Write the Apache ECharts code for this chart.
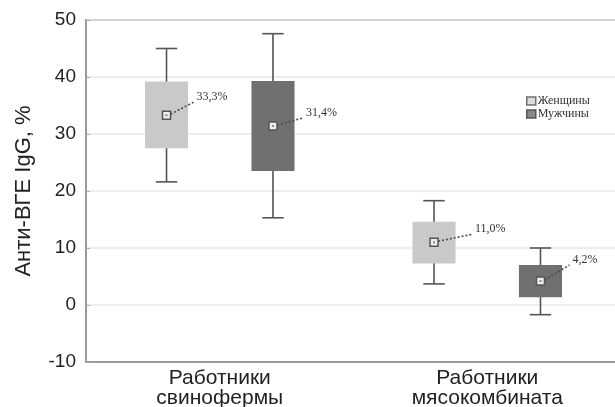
<!DOCTYPE html>
<html><head><meta charset="utf-8">
<script src="https://cdn.jsdelivr.net/npm/echarts@6/dist/echarts.min.js"></script>
<style>html,body{margin:0;padding:0;background:#fff}#c{width:615px;height:407px}</style>
</head><body><div id="c"></div>
<script>
const categories = ['Работники\nсвинофермы', 'Работники\nмясокомбината'];
const seriesNames = ['Женщины', 'Мужчины'];
const womenMin  = [21.6, 3.7];
const womenQ1   = [27.5, 7.3];
const womenQ3   = [39.2, 14.6];
const womenMax  = [45.0, 18.3];
const womenMean = [33.3, 11.0];
const menMin  = [15.3, -1.7];
const menQ1   = [23.5, 1.35];
const menQ3   = [39.3, 7.0];
const menMax  = [47.6, 10.0];
const menMean = [31.4, 4.2];
const womenLabels = ['33,3%', '11,0%'];
const menLabels   = ['31,4%', '4,2%'];
const yAxisName = 'Анти-ВГЕ IgG, %';

// layout only: label nudges in pixels (dx, dy) from mean marker
const womenLabelNudge = [[30, -18], [41, -13]];
const menLabelNudge   = [[33, -13], [32, -21]];

function buildData(mn, q1, q3, mx, mean) {
  return categories.map((c, i) => [i, mn[i], q1[i], q3[i], mx[i], mean[i]]);
}

function makeRender(side, fill, labels, nudges) {
  return function (params, api) {
    const ci = api.value(0);
    const band = api.size([1, 0])[0];
    const cx = api.coord([ci, 0])[0] + side * band * 0.199;
    const yMin = api.coord([ci, api.value(1)])[1];
    const yQ1 = api.coord([ci, api.value(2)])[1];
    const yQ3 = api.coord([ci, api.value(3)])[1];
    const yMax = api.coord([ci, api.value(4)])[1];
    const yMean = api.coord([ci, api.value(5)])[1];
    const bw = band * 0.161, cw = band * 0.08;
    const n = nudges[params.dataIndex];
    const tx = cx + n[0], ty = yMean + n[1];
    const stroke = '#555';
    return {
      type: 'group',
      children: [
        { type: 'line', shape: { x1: cx, y1: yMax, x2: cx, y2: yMin }, style: { stroke, lineWidth: 1.6 } },
        { type: 'line', shape: { x1: cx - cw / 2, y1: yMax, x2: cx + cw / 2, y2: yMax }, style: { stroke, lineWidth: 1.6 } },
        { type: 'line', shape: { x1: cx - cw / 2, y1: yMin, x2: cx + cw / 2, y2: yMin }, style: { stroke, lineWidth: 1.6 } },
        { type: 'rect', shape: { x: cx - bw / 2, y: yQ3, width: bw, height: yQ1 - yQ3 }, style: { fill } },
        { type: 'line', shape: { x1: cx + 4, y1: yMean - 1, x2: tx - 3, y2: ty + 5 }, style: { stroke: '#4a4a4a', lineWidth: 1.6, lineDash: [2, 2] } },
        { type: 'rect', shape: { x: cx - 4, y: yMean - 4, width: 8, height: 8 }, style: { fill: '#eeeeee', stroke, lineWidth: 1.5 } },
        { type: 'rect', shape: { x: cx - 1, y: yMean - 1, width: 2, height: 2 }, style: { fill: '#888' } },
        { type: 'text', style: { x: tx, y: ty, text: labels[params.dataIndex], fill: '#333', font: '12px "Liberation Serif"', align: 'left', verticalAlign: 'middle' } }
      ]
    };
  };
}

const chart = echarts.init(document.getElementById('c'), null, { renderer: 'canvas' });
chart.setOption({
  backgroundColor: '#fff',
  animation: false,
  grid: { left: 86, top: 20, right: -6, bottom: 45, show: true, borderColor: '#9a9a9a', borderWidth: 2, backgroundColor: 'transparent', containLabel: false, outerBoundsMode: 'none' },
  legend: {
    orient: 'vertical', left: 526, top: 95, itemWidth: 9, itemHeight: 8, itemGap: 1, padding: 0,
    textStyle: { fontFamily: 'Liberation Serif', fontSize: 12, color: '#333', padding: [0, 0, 0, -3] },
    data: [
      { name: seriesNames[0], icon: 'rect', itemStyle: { color: '#dcdcdc', borderColor: '#707070', borderWidth: 1.5 } },
      { name: seriesNames[1], icon: 'rect', itemStyle: { color: '#8a8a8a', borderColor: '#555', borderWidth: 1.5 } }
    ]
  },
  xAxis: {
    type: 'category', data: categories,
    axisLine: { onZero: false, lineStyle: { color: '#9a9a9a', width: 2 } },
    axisTick: { inside: true, alignWithLabel: true, length: 3, lineStyle: { color: '#9a9a9a' } },
    axisLabel: { fontFamily: 'Liberation Sans', fontSize: 21, lineHeight: 20, color: '#222', margin: 6 },
    splitLine: { show: false }
  },
  yAxis: {
    type: 'value', min: -10, max: 50, interval: 10,
    name: yAxisName, nameLocation: 'middle', nameRotate: 90, nameGap: 51,
    nameTextStyle: { fontFamily: 'Liberation Sans', fontSize: 22, color: '#222' },
    axisLine: { show: true, lineStyle: { color: '#9a9a9a', width: 2 } },
    axisTick: { show: true, inside: true, length: 4, lineStyle: { color: '#aaa' } },
    axisLabel: { fontFamily: 'Liberation Sans', fontSize: 19, color: '#222', margin: 10 },
    splitLine: { lineStyle: { color: '#e8e8e8', width: 1.5 } }
  },
  series: [
    { name: seriesNames[0], type: 'custom', itemStyle: { color: '#c9c9c9' },
      renderItem: makeRender(-1, '#c9c9c9', womenLabels, womenLabelNudge),
      encode: { x: 0, y: [1, 2, 3, 4, 5] },
      data: buildData(womenMin, womenQ1, womenQ3, womenMax, womenMean) },
    { name: seriesNames[1], type: 'custom', itemStyle: { color: '#707070' },
      renderItem: makeRender(1, '#707070', menLabels, menLabelNudge),
      encode: { x: 0, y: [1, 2, 3, 4, 5] },
      data: buildData(menMin, menQ1, menQ3, menMax, menMean) }
  ]
});
</script></body></html>
